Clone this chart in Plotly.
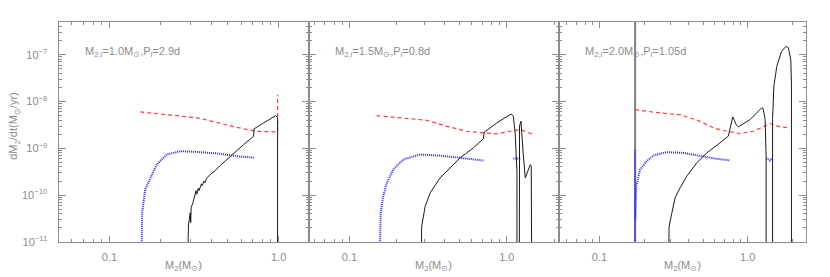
import math
import plotly.graph_objects as go

# ---- data ----
# panel 1: M2,i = 1.0 Msun, Pi = 2.9 d
p1_red_m = [0.152, 0.209, 0.329, 0.43, 0.566, 0.745, 0.975, 0.985, 0.985]
p1_red_y = [6.0e-9, 5.4e-9, 4.5e-9, 3.6e-9, 2.8e-9, 2.3e-9, 2.25e-9, 2.25e-9, 1.4e-8]
p1_blue_m = [0.154, 0.156, 0.1626, 0.174, 0.19, 0.218, 0.262, 0.329, 0.431, 0.566, 0.718]
p1_blue_y = [1e-12, 4.2e-11, 1.32e-10, 2.34e-10, 4.5e-10, 7.4e-10, 8.7e-10, 8.4e-10, 7.8e-10, 6.8e-10, 6.3e-10]
p1_black_m = [0.287, 0.29, 0.293, 0.298, 0.300, 0.302, 0.304, 0.310, 0.314, 0.325, 0.328, 0.335,
              0.338, 0.344, 0.350, 0.353, 0.362, 0.366, 0.375, 0.394, 0.42, 0.451, 0.518, 0.62,
              0.711, 0.714, 0.815, 0.933, 0.96, 0.985, 0.985]
p1_black_y = [1e-12, 1e-11, 2.2e-11, 3.6e-11, 4.2e-11, 2.6e-11, 5.5e-11, 6.5e-11, 8.1e-11, 1.25e-10, 1.05e-10, 1.4e-10,
              1.25e-10, 1.55e-10, 1.75e-10, 1.6e-10, 2.0e-10, 1.85e-10, 2.3e-10, 2.76e-10, 3.3e-10, 4.3e-10, 6.8e-10, 1.2e-9,
              1.82e-9, 2.6e-9, 3.5e-9, 4.85e-9, 5.0e-9, 4.5e-9, 1e-12]

# panel 2: M2,i = 1.5 Msun, Pi = 0.8 d
p2_red_m = [0.149, 0.232, 0.310, 0.416, 0.557, 0.710, 0.864, 1.05, 1.22, 1.44]
p2_red_y = [5.0e-9, 4.26e-9, 3.98e-9, 2.96e-9, 2.32e-9, 2.14e-9, 2.04e-9, 2.32e-9, 2.51e-9, 2.04e-9]
p2_blue_m = [0.155, 0.158, 0.164, 0.173, 0.190, 0.220, 0.281, 0.377, 0.505, 0.710, None, 1.10, 1.22]
p2_blue_y = [1e-12, 4.2e-11, 9.5e-11, 1.84e-10, 3.53e-10, 5.77e-10, 7.38e-10, 7.0e-10, 6.27e-10, 5.5e-10, None, 6.1e-10, 6.1e-10]
p2_black_m = [0.284, 0.288, 0.303, 0.326, 0.377, 0.436, 0.505, 0.614, 0.710, 0.718, 0.864, 1.065, 1.10, 1.13,
              1.146, 1.16, 1.16, None, 1.20, 1.205, 1.23, 1.26, 1.27, 1.31, 1.35, 1.41, 1.43, 1.44]
p2_black_y = [1e-12, 2.17e-11, 5.8e-11, 1.12e-10, 2.34e-10, 3.84e-10, 6.27e-10, 1.03e-9, 1.6e-9, 2.2e-9, 3.5e-9, 5.44e-9, 4.85e-9, 2.14e-9,
              6.8e-10, 3.2e-10, 1e-12, None, 1e-12, 3.0e-9, 3.8e-9, 1.55e-9, 8.0e-10, 2.34e-10, 3.0e-10, 4.5e-10, 4.15e-10, 1e-12]

# panel 3: M2,i = 2.0 Msun, Pi = 1.05 d
p3_red_m = [0.174, 0.256, 0.350, 0.477, 0.586, 0.721, 0.887, 1.09, 1.27, 1.41, 1.65, 1.93]
p3_red_y = [6.7e-9, 5.7e-9, 5.26e-9, 3.8e-9, 2.74e-9, 2.32e-9, 2.07e-9, 2.32e-9, 2.88e-9, 3.39e-9, 2.88e-9, 2.74e-9]
p3_blue_m = [0.174, 0.174, None, 0.1745, 0.177, 0.188, 0.208, 0.231, 0.284, 0.368, 0.477, 0.618, 0.751,
             None, 1.33, 1.41, 1.47]
p3_blue_y = [1e-12, 9.4e-10, None, 3e-11, 1.55e-10, 3.5e-10, 5.3e-10, 7.0e-10, 8.3e-10, 8.0e-10, 6.8e-10, 5.97e-10, 5.57e-10,
             None, 6.3e-10, 5.5e-10, 6.3e-10]
p3_black_m = [0.292, 0.295, 0.308, 0.324, 0.350, 0.388, 0.453, 0.530, 0.650, 0.739, 0.757, 0.793, 0.809, 0.834,
              0.865, 1.037, 1.24, 1.27, 1.31, 1.325, 1.33, 1.33, None,
              1.47, 1.47, 1.50, 1.57, 1.69, 1.81, 1.88, 1.95, 1.97, 1.97]
p3_black_y = [1e-12, 2.17e-11, 4.2e-11, 8.8e-11, 1.44e-10, 2.54e-10, 4.9e-10, 8.0e-10, 1.31e-9, 1.82e-9, 2.52e-9, 4.7e-9, 4.12e-9, 3.22e-9,
              2.88e-9, 4.12e-9, 7.3e-9, 7.1e-9, 4.12e-9, 1.82e-9, 6.3e-10, 1e-12, None,
              1e-12, 4.12e-9, 2.11e-8, 5.65e-8, 1.18e-7, 1.51e-7, 1.4e-7, 7.9e-8, 2.5e-8, 1e-12]
p3_gray_m = [0.174, 0.174]
p3_gray_y = [1e-12, 1e-6]

labels = ["M<sub>2,i</sub>=1.0M<sub>\u2299</sub>,P<sub>i</sub>=2.9d",
          "M<sub>2,i</sub>=1.5M<sub>\u2299</sub>,P<sub>i</sub>=0.8d",
          "M<sub>2,i</sub>=2.0M<sub>\u2299</sub>,P<sub>i</sub>=1.05d"]
x_ranges = [(0.05, 1.5), (0.055, 2.13), (0.053, 2.47)]
y_range = (1e-11, 5e-7)

# ---- figure ----
# page body has an 8px default margin, so everything is placed 8px up/left
OFF = 8
W, H = 830, 277
TOP, BOT = 22 - OFF, 242.5 - OFF
edges = [58.5 - OFF, 308.5 - OFF, 558.5 - OFF, 806 - OFF]
AX = "#8c8c8c"
TXT = "#8c8c8c"
FONT = "Liberation Sans"

fig = go.Figure()
panels = [
    (p1_red_m, p1_red_y, p1_blue_m, p1_blue_y, p1_black_m, p1_black_y),
    (p2_red_m, p2_red_y, p2_blue_m, p2_blue_y, p2_black_m, p2_black_y),
    (p3_red_m, p3_red_y, p3_blue_m, p3_blue_y, p3_black_m, p3_black_y),
]

for i, (rm, ry, bm, by, km, ky) in enumerate(panels):
    sfx = "" if i == 0 else str(i + 1)
    xa, ya = "x" + sfx, "y" + sfx
    if i == 2:
        fig.add_trace(go.Scatter(x=p3_gray_m, y=p3_gray_y, mode="lines", xaxis=xa, yaxis=ya,
                                 line=dict(color="#808080", width=2), showlegend=False))
    fig.add_trace(go.Scatter(x=rm, y=ry, mode="lines", xaxis=xa, yaxis=ya,
                             line=dict(color="#ff3b3b", width=1.2, dash="4px,3px"), showlegend=False))
    fig.add_trace(go.Scatter(x=bm, y=by, mode="lines", xaxis=xa, yaxis=ya, connectgaps=False,
                             line=dict(color="#2a2aff", width=2, dash="1px,1px"), showlegend=False))
    fig.add_trace(go.Scatter(x=km, y=ky, mode="lines", xaxis=xa, yaxis=ya, connectgaps=False,
                             line=dict(color="#1a1a1a", width=1), showlegend=False))

x_minor = [0.05, 0.06, 0.07, 0.08, 0.09, 0.2, 0.3, 0.4, 0.5, 0.6, 0.7, 0.8, 0.9, 2.0]
y_major = [1e-11, 1e-10, 1e-9, 1e-8, 1e-7]
y_text = ["10<sup>\u221211</sup>", "10<sup>\u221210</sup>", "10<sup>\u22129</sup>",
          "10<sup>\u22128</sup>", "10<sup>\u22127</sup>"]
y_minor = [k * 10.0 ** e for e in range(-11, -6) for k in range(2, 10) if k * 10.0 ** e <= 5e-7]

layout = dict(
    width=W, height=H,
    margin=dict(l=0, r=0, t=TOP, b=H - BOT),
    paper_bgcolor="white", plot_bgcolor="white",
    font=dict(family=FONT, size=11, color=TXT),
    showlegend=False,
)
for i in range(3):
    sfx = "" if i == 0 else str(i + 1)
    lo, hi = x_ranges[i]
    layout["xaxis" + sfx] = dict(
        type="log", range=[math.log10(lo), math.log10(hi)],
        domain=[edges[i] / W, edges[i + 1] / W], anchor="y" + sfx,
        showline=True, linecolor=AX, linewidth=1, mirror="ticks",
        ticks="inside", ticklen=6, tickcolor=AX,
        tickvals=[0.1, 1.0], ticktext=["0.1", "1.0"],
        minor=dict(tickvals=x_minor, ticks="inside", ticklen=3, tickcolor=AX),
        showgrid=False, zeroline=False, ticklabelstandoff=5,
        tickfont=dict(size=11, color=TXT),
    )
    layout["yaxis" + sfx] = dict(
        type="log", range=[math.log10(y_range[0]), math.log10(y_range[1])],
        domain=[0, 1], anchor="x" + sfx,
        showline=True, linecolor=AX, linewidth=1, mirror="ticks",
        ticks="inside", ticklen=7, tickcolor=AX,
        tickvals=y_major, ticktext=y_text, showticklabels=(i == 0),
        minor=dict(tickvals=y_minor, ticks="inside", ticklen=3, tickcolor=AX),
        showgrid=False, zeroline=False, ticklabelstandoff=8,
        tickfont=dict(size=11, color=TXT),
    )
fig.update_layout(**layout)

ph = BOT - TOP
ann = []
for i, txt in enumerate(labels):
    ann.append(dict(text=txt, x=(edges[i] + 24.5) / W, y=(BOT - (52 - OFF)) / ph, xref="paper", yref="paper",
                    xanchor="left", yanchor="middle", showarrow=False, font=dict(size=11, color=TXT)))
    ann.append(dict(text="M<sub>2</sub>(M<sub>\u2299</sub>)", x=(edges[i] + edges[i + 1]) / 2 / W,
                    y=(BOT - (267 - OFF)) / ph, xref="paper", yref="paper", xanchor="center", yanchor="middle",
                    showarrow=False, font=dict(size=11, color=TXT)))
ann.append(dict(text="dM<sub>2</sub>/dt(M<sub>\u2299</sub>/yr)", x=(14 - OFF) / W, y=(BOT - (126 - OFF)) / ph,
                xref="paper", yref="paper", xanchor="center", yanchor="middle", textangle=-90,
                showarrow=False, font=dict(size=11, color=TXT)))
fig.update_layout(annotations=ann)

fig.write_html("out.html")
